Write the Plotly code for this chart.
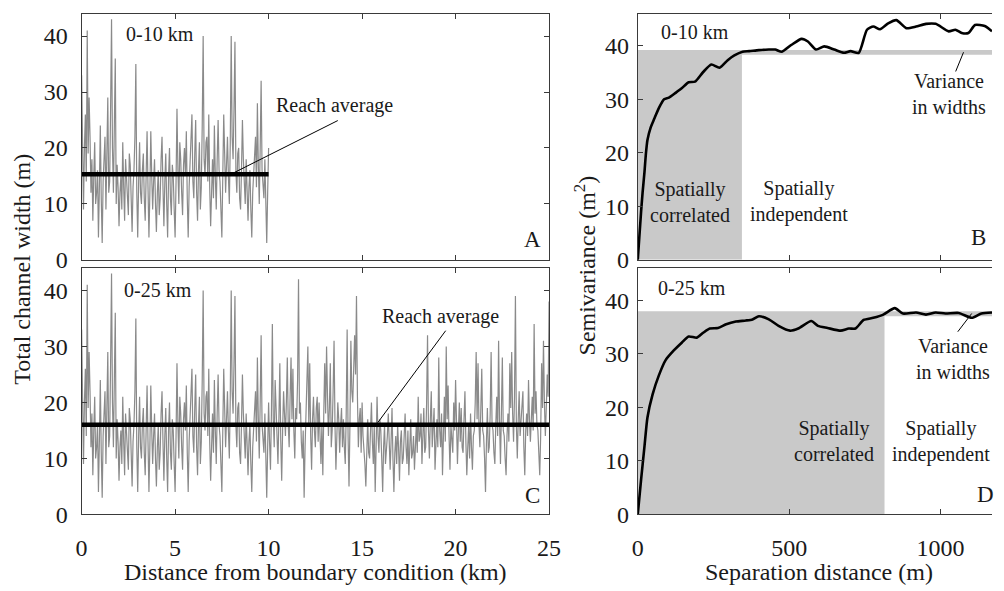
import plotly.graph_objects as go

# ---------------- data ----------------
# channel width (m) sampled every 0.05 km from 0 to 25 km
width_km_step = 0.05
widths = [
    33, 17, 9, 20, 26, 14, 41, 19, 29, 22, 12, 18, 7, 15, 21, 10, 12, 16, 4, 13,
    24, 11, 3, 14, 18, 22, 9, 25, 29, 12, 14, 27, 43, 20, 12, 24, 36, 10, 17, 13,
    6, 12, 15, 9, 21, 13, 7, 18, 14, 10, 8, 19, 17, 11, 5, 13, 16, 22, 35, 12,
    4, 14, 21, 12, 10, 16, 19, 11, 7, 15, 23, 13, 4, 12, 23, 15, 9, 14, 18, 10,
    5, 12, 16, 8, 11, 18, 22, 13, 6, 14, 19, 10, 4, 15, 20, 11, 8, 17, 15, 9,
    4, 14, 27, 16, 10, 21, 18, 12, 8, 17, 20, 15, 23, 11, 4, 13, 17, 20, 26, 14,
    11, 19, 25, 12, 7, 16, 21, 9, 13, 24, 40, 18, 15, 21, 22, 14, 26, 13, 6, 12,
    18, 11, 24, 15, 9, 18, 25, 16, 14, 9, 4, 15, 26, 19, 12, 17, 22, 15, 10, 21,
    40, 22, 18, 27, 39, 16, 12, 19, 20, 11, 9, 16, 25, 18, 13, 10, 18, 12, 7, 13,
    16, 9, 4, 12, 15, 19, 22, 13, 28, 17, 10, 20, 32, 16, 14, 11, 18, 10, 3, 12,
    20, 13, 8, 18, 34, 17, 12, 24, 20, 14, 9, 17, 27, 13, 6, 15, 22, 18, 14, 20,
    28, 16, 12, 21, 28, 17, 26, 15, 10, 19, 17, 24, 42, 18, 20, 13, 10, 15, 3, 12,
    18, 23, 30, 16, 27, 14, 8, 17, 21, 15, 12, 19, 21, 13, 20, 14, 9, 16, 7, 18,
    27, 18, 30, 21, 14, 19, 27, 12, 15, 22, 31, 16, 8, 14, 20, 17, 11, 16, 19, 12,
    17, 12, 9, 18, 33, 14, 5, 16, 31, 22, 20, 26, 32, 25, 39, 21, 12, 17, 19, 11,
    20, 14, 12, 9, 5, 13, 17, 11, 10, 15, 20, 13, 9, 16, 4, 12, 21, 14, 11, 17,
    15, 10, 4, 12, 16, 9, 11, 14, 18, 11, 8, 13, 19, 10, 4, 11, 14, 9, 16, 12,
    6, 13, 15, 9, 10, 14, 18, 12, 9, 15, 7, 12, 17, 10, 11, 14, 8, 12, 16, 11,
    21, 13, 14, 18, 9, 14, 19, 11, 12, 20, 32, 15, 10, 17, 22, 12, 15, 19, 8, 13,
    17, 12, 28, 15, 12, 18, 7, 14, 21, 13, 30, 17, 23, 14, 8, 16, 14, 11, 20, 15,
    24, 14, 9, 15, 20, 13, 19, 12, 11, 17, 22, 13, 7, 12, 16, 10, 18, 12, 8, 14,
    15, 20, 29, 17, 27, 16, 12, 19, 26, 15, 14, 10, 4, 13, 19, 11, 12, 18, 29, 16,
    15, 11, 9, 16, 21, 14, 31, 17, 9, 18, 28, 15, 14, 10, 7, 14, 18, 13, 27, 19,
    29, 18, 13, 21, 39, 16, 10, 17, 22, 14, 17, 21, 22, 12, 7, 15, 18, 14, 24, 17,
    13, 17, 21, 15, 34, 18, 22, 16, 15, 11, 7, 14, 27, 19, 31, 20, 14, 19, 25, 21,
    38,
]
distance_km = [round(i * width_km_step, 2) for i in range(len(widths))]
reach_avg_10 = 15.3
reach_avg_25 = 16.0

# semivariograms
sep_b = [0, 5, 11, 16, 22, 27, 32, 43, 54, 70, 87, 103, 125, 146, 168, 189, 216, 243,
         270, 297, 319, 346, 368, 400, 433, 454, 476, 508, 541, 562, 589, 616, 649,
         681, 703, 730, 757, 778, 800, 827, 854, 887, 919, 952, 984, 1027, 1049, 1070,
         1092, 1114, 1146, 1170]
gam_b = [0, 4.1, 9, 12.6, 16.3, 19.9, 22.4, 24.8, 26.3, 28.4, 30, 30.3, 31.2, 32.1,
         33.2, 33.3, 35.1, 36.5, 35.9, 37.3, 38.2, 38.9, 39.0, 39.2, 39.3, 39.3, 38.9,
         40.2, 41.3, 40.8, 39.3, 39.9, 39.3, 38.7, 39.0, 38.7, 43.0, 43.6, 43.1, 44.2,
         44.8, 43.3, 43.6, 44.1, 44.1, 42.7, 43.0, 42.4, 42.4, 43.9, 43.7, 42.7]
sep_d = [0, 11, 22, 32, 49, 70, 92, 119, 146, 168, 195, 216, 238, 265, 292, 324, 357,
         379, 400, 433, 465, 503, 530, 573, 595, 627, 670, 697, 719, 746, 778, 811,
         849, 876, 919, 952, 984, 1016, 1060, 1103, 1135, 1170]
gam_d = [0, 6.5, 12.6, 18.1, 22.4, 26, 28.8, 30.6, 32.1, 33.2, 33, 33.9, 34.7, 34.8,
         35.5, 36, 36.2, 36.4, 37, 36.4, 35.2, 34.3, 34.7, 36.1, 35.2, 34.8, 34.3,
         34.7, 34.7, 36.3, 36.7, 37.3, 38.5, 37.5, 37.7, 37.3, 37.7, 37.5, 37.6,
         36.7, 37.5, 37.7]
variance_b = 39.2
range_b = 344
variance_d = 37.9
range_d = 815

# ---------------- figure ----------------
FONT = "Liberation Serif"
TXT = "#1a1a1a"
AX = "#3a3a3a"
GRAY = "#c9c9c9"

fig = go.Figure()

n10 = int(round(10 / width_km_step)) + 1
fig.add_trace(go.Scatter(x=distance_km[:n10], y=widths[:n10], mode="lines",
                         line=dict(color="#8a8a8a", width=1.2), xaxis="x", yaxis="y"))
fig.add_trace(go.Scatter(x=[0, 10], y=[reach_avg_10, reach_avg_10], mode="lines",
                         line=dict(color="black", width=4.5), xaxis="x", yaxis="y"))
fig.add_trace(go.Scatter(x=distance_km, y=widths, mode="lines",
                         line=dict(color="#8a8a8a", width=1.2), xaxis="x3", yaxis="y3"))
fig.add_trace(go.Scatter(x=[0, 25], y=[reach_avg_25, reach_avg_25], mode="lines",
                         line=dict(color="black", width=4.5), xaxis="x3", yaxis="y3"))
fig.add_trace(go.Scatter(x=sep_b, y=gam_b, mode="lines",
                         line=dict(color="black", width=2.6, shape="spline", smoothing=0.6),
                         xaxis="x2", yaxis="y2"))
fig.add_trace(go.Scatter(x=sep_d, y=gam_d, mode="lines",
                         line=dict(color="black", width=2.6, shape="spline", smoothing=0.6),
                         xaxis="x4", yaxis="y4"))

shapes = [
    dict(type="rect", xref="x2", yref="y2", x0=0, x1=range_b, y0=0, y1=variance_b,
         fillcolor=GRAY, line=dict(width=0), layer="below"),
    dict(type="rect", xref="x2", yref="y2", x0=range_b, x1=1170, y0=variance_b - 0.85, y1=variance_b,
         fillcolor=GRAY, line=dict(width=0), layer="below"),
    dict(type="rect", xref="x4", yref="y4", x0=0, x1=range_d, y0=0, y1=variance_d,
         fillcolor=GRAY, line=dict(width=0), layer="below"),
    dict(type="rect", xref="x4", yref="y4", x0=range_d, x1=1170, y0=variance_d - 0.9, y1=variance_d,
         fillcolor=GRAY, line=dict(width=0), layer="below"),
    # leader lines
    dict(type="line", xref="x", yref="y", x0=8.16, y0=15.6, x1=13.7, y1=24.9, line=dict(color="black", width=1)),
    dict(type="line", xref="x3", yref="y3", x0=15.84, y0=16.4, x1=19.47, y1=32.8, line=dict(color="black", width=1)),
    dict(type="line", xref="x2", yref="y2", x0=1050, y0=35.2, x1=1076, y1=38.8, line=dict(color="black", width=1)),
    dict(type="line", xref="x4", yref="y4", x0=1057, y0=34.1, x1=1103, y1=37.5, line=dict(color="black", width=1)),
]

def ann(text, x, y, xr, yr, size=20, **kw):
    return dict(text=text, x=x, y=y, xref=xr, yref=yr, showarrow=False,
                xanchor="center", yanchor="middle",
                font=dict(family=FONT, size=size, color=TXT), **kw)

annotations = [
    ann("0-10 km", 4.2, 40.4, "x", "y"),
    ann("0-25 km", 4.1, 40.1, "x3", "y3"),
    ann("Reach average", 13.5, 27.6, "x", "y"),
    ann("Reach average", 19.2, 35.3, "x3", "y3"),
    ann("A", 24.1, 3.6, "x", "y", size=23),
    ann("C", 24.1, 3.3, "x3", "y3", size=23),
    ann("0-10 km", 190, 42.5, "x2", "y2"),
    ann("0-25 km", 178, 42.3, "x4", "y4"),
    ann("Spatially<br>correlated", 173, 10.9, "x2", "y2"),
    ann("Spatially<br>independent", 534, 10.9, "x2", "y2"),
    ann("Spatially<br>correlated", 648, 13.7, "x4", "y4"),
    ann("Spatially<br>independent", 1001, 13.7, "x4", "y4"),
    ann("Variance<br>in widths", 1027, 31.0, "x2", "y2"),
    ann("Variance<br>in widths", 1040, 29.1, "x4", "y4"),
    ann("B", 1125, 4.1, "x2", "y2", size=23),
    ann("D", 1150, 3.8, "x4", "y4", size=23),
    ann("Total channel width (m)", 16 / 1004, 1 - 275 / 591, "paper", "paper", size=24, textangle=-90),
    ann("Semivariance (m<sup>2</sup>)", 590 / 1004, 1 - 271 / 591, "paper", "paper", size=24, textangle=-90),
    ann("Distance from boundary condition (km)", 315 / 1004, 1 - 585 / 591, "paper", "paper", size=24),
    ann("Separation distance (m)", 828 / 1004, 1 - 585 / 591, "paper", "paper", size=24),
]

def axis(domain, rng, tickvals, labels=True, mirror="ticks", anchor=None, standoff=5):
    d = dict(domain=domain, range=rng, tickvals=tickvals, ticks="inside", ticklen=5,
             tickcolor=AX, showline=True, linecolor=AX, linewidth=1, mirror=mirror,
             showgrid=False, zeroline=False, showticklabels=labels,
             ticklabelstandoff=standoff,
             tickfont=dict(family=FONT, size=24, color=TXT), fixedrange=True)
    if anchor:
        d["anchor"] = anchor
    return d

LX = [77 / 1004, 553 / 1004]
RX = [643.3 / 1004, 1.0]
TOP = [1 - 265.7 / 591, 1 - 14 / 591]
BOT = [1 - 526 / 591, 1 - 274 / 591]

fig.update_layout(
    width=1004, height=591, margin=dict(l=0, r=0, t=0, b=0),
    paper_bgcolor="white", plot_bgcolor="white", showlegend=False,
    xaxis=axis(LX, [0, 25], [0, 5, 10, 15, 20, 25], labels=False, anchor="y"),
    yaxis=axis(TOP, [0, 44], [0, 10, 20, 30, 40], anchor="x", standoff=8),
    xaxis3=axis(LX, [0, 25], [0, 5, 10, 15, 20, 25], anchor="y3", standoff=12),
    yaxis3=axis(BOT, [0, 44], [0, 10, 20, 30, 40], anchor="x3", standoff=8),
    xaxis2=axis(RX, [0, 1170], [0, 500, 1000], labels=False, anchor="y2"),
    yaxis2=axis(TOP, [0, 46], [0, 10, 20, 30, 40], mirror=False, anchor="x2", standoff=3),
    xaxis4=axis(RX, [0, 1170], [0, 500, 1000], anchor="y4", standoff=12),
    yaxis4=axis(BOT, [0, 46], [0, 10, 20, 30, 40], mirror=False, anchor="x4", standoff=3),
    shapes=shapes, annotations=annotations,
)

fig.write_html("out.html")
